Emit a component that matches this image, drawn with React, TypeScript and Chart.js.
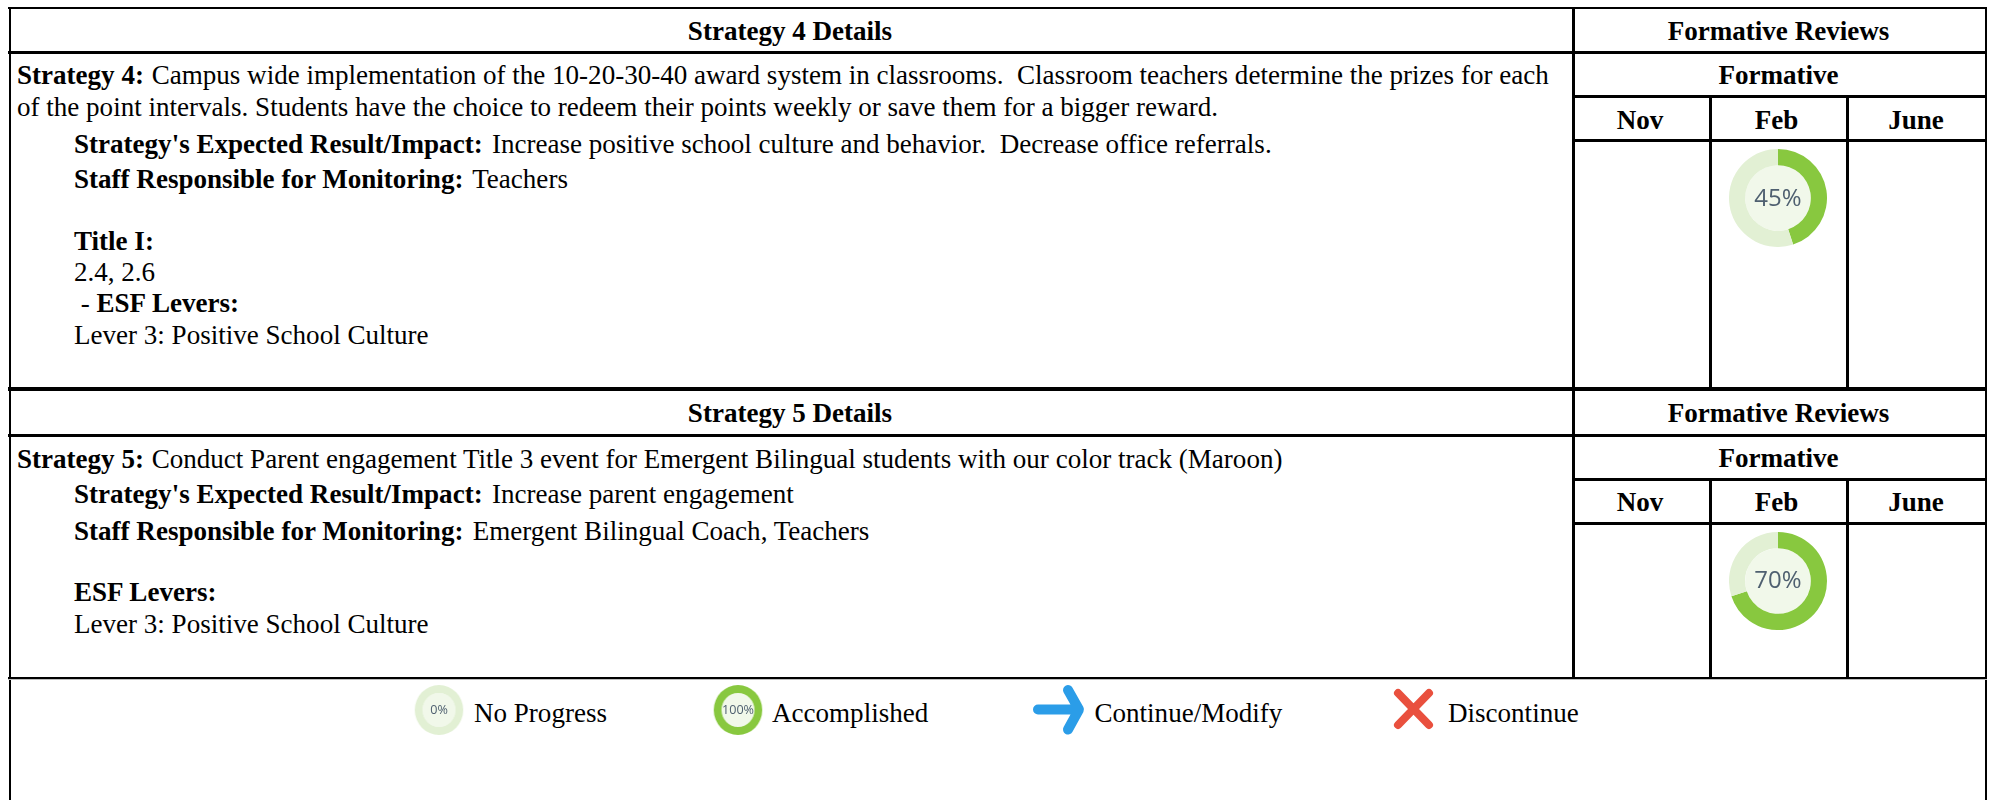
import React, { useEffect, useRef } from "react";
import { Chart, registerables } from "chart.js";

Chart.register(...registerables);

// ---- data ----
const reviewMonths = ["Nov", "Feb", "June"];
const strategy4Progress = [45, 55];
const strategy5Progress = [70, 30];
const noProgress = [0, 100];
const accomplished = [100, 0];
const strategy4Lines = [
  "Campus wide implementation of the 10-20-30-40 award system in classrooms.  Classroom teachers determine the prizes for each",
  "of the point intervals. Students have the choice to redeem their points weekly or save them for a bigger reward.",
  "Increase positive school culture and behavior.  Decrease office referrals.",
  "Teachers",
  "2.4, 2.6",
  "Lever 3: Positive School Culture",
];
const strategy5Lines = [
  "Conduct Parent engagement Title 3 event for Emergent Bilingual students with our color track (Maroon)",
  "Increase parent engagement",
  "Emergent Bilingual Coach, Teachers",
  "Lever 3: Positive School Culture",
];
const legendLabels = ["No Progress", "Accomplished", "Continue/Modify", "Discontinue"];

// ---- styles ----
const GREEN = "#88c83f";
const LIGHT = "#e2f0d4";
const CORE = "#f1f8ea";
const INK = "#000";
const SERIF = '"Liberation Serif", "Times New Roman", serif';
const FS = 27.05;

const coreFill = {
  id: "coreFill",
  beforeDatasetsDraw(chart: any) {
    const arc = chart.getDatasetMeta(0).data[0];
    if (!arc) return;
    const { ctx } = chart;
    ctx.save();
    ctx.fillStyle = CORE;
    ctx.beginPath();
    ctx.arc(arc.x, arc.y, arc.innerRadius, 0, Math.PI * 2);
    ctx.fill();
    ctx.restore();
  },
};

function Ring({ cx, cy, size, squeeze = 1, values, label, fontSize, cutout, lift = 0 }: any) {
  const ref = useRef<HTMLCanvasElement>(null);
  useEffect(() => {
    const chart = new Chart(ref.current!, {
      type: "doughnut",
      data: {
        labels: ["Done", "Remaining"],
        datasets: [{ data: values, backgroundColor: [GREEN, LIGHT], borderWidth: 0 }],
      },
      options: {
        responsive: false,
        animation: false,
        cutout,
        layout: { padding: 0 },
        plugins: { legend: { display: false }, tooltip: { enabled: false } },
      },
      plugins: [coreFill],
    });
    return () => chart.destroy();
  }, []);
  return (
    <div
      style={{
        position: "absolute",
        left: cx - size / 2,
        top: cy - size / 2,
        width: size,
        height: size,
        transform: `scaleX(${squeeze})`,
      }}
    >
      <canvas ref={ref} width={size} height={size} style={{ display: "block" }} />
      <div
        style={{
          position: "absolute",
          left: 0,
          right: 0,
          top: -lift,
          height: size,
          display: "flex",
          alignItems: "center",
          justifyContent: "center",
          font: `${fontSize}px "Open Sans", sans-serif`,
          color: "#4f6070",
        }}
      >
        {label}
      </div>
    </div>
  );
}

function Line({ x, y, w, h, color = INK }: any) {
  return <div style={{ position: "absolute", left: x, top: y, width: w, height: h, background: color }} />;
}

function T({ x, y, children }: any) {
  return (
    <div
      style={{
        position: "absolute",
        left: x,
        top: y - 20,
        height: 40,
        whiteSpace: "pre",
        font: `${FS}px/40px ${SERIF}`,
        color: INK,
      }}
    >
      {children}
    </div>
  );
}

function B({ gap = 0, children }: any) {
  return <b style={{ marginRight: gap }}>{children}</b>;
}

function C({ cx, y, children }: any) {
  return (
    <div
      style={{
        position: "absolute",
        left: cx - 400,
        width: 800,
        top: y - 20,
        height: 40,
        textAlign: "center",
        whiteSpace: "pre",
        font: `bold ${FS}px/40px ${SERIF}`,
        color: INK,
      }}
    >
      {children}
    </div>
  );
}

function ReviewColumns({ top, head, form, months, bottom, shift = 0 }: any) {
  return (
    <>
      <Line x={8} y={head} w={1979} h={3} />
      <Line x={1572} y={form} w={415} h={3} />
      <Line x={1572} y={months} w={415} h={3} />
      <Line x={1709} y={form} w={3} h={bottom - form} />
      <Line x={1846} y={form} w={3} h={bottom - form} />
      <C cx={1778.5} y={(top + head) / 2 + 1 + shift}>Formative Reviews</C>
      <C cx={1778.5} y={(head + form) / 2 + 2}>Formative</C>
      <C cx={1640} y={(form + months) / 2 + 3 + shift}>{reviewMonths[0]}</C>
      <C cx={1776.5} y={(form + months) / 2 + 3 + shift}>{reviewMonths[1]}</C>
      <C cx={1916} y={(form + months) / 2 + 3 + shift}>{reviewMonths[2]}</C>
    </>
  );
}

export default function App() {
  return (
    <div style={{ position: "absolute", left: 0, top: 0, width: 1995, height: 800, overflow: "hidden", background: "#fff" }}>
      {/* frame */}
      <Line x={8} y={7} w={1979} h={2} />
      <Line x={9} y={7} w={2} h={793} />
      <Line x={1985} y={7} w={2} h={793} />
      <Line x={1572} y={7} w={3} h={671} />
      <Line x={8} y={387} w={1979} h={4} />
      <Line x={8} y={677} w={1979} h={2} />
      <Line x={8} y={679} w={1979} h={1} color="#bdbdbd" />

      {/* strategy 4 */}
      <C cx={790} y={31}>Strategy 4 Details</C>
      <ReviewColumns top={8} head={51} form={95} months={139} bottom={387} />
      <T x={17} y={75}><B gap={1}>Strategy 4:</B> {strategy4Lines[0]}</T>
      <T x={17} y={107}>{strategy4Lines[1]}</T>
      <T x={74} y={144}><B gap={2.5}>Strategy's Expected Result/Impact:</B> {strategy4Lines[2]}</T>
      <T x={74} y={179}><B gap={2.5}>Staff Responsible for Monitoring:</B> {strategy4Lines[3]}</T>
      <T x={74} y={241}><b>Title I:</b></T>
      <T x={74} y={272}>{strategy4Lines[4]}</T>
      <T x={74} y={303}> - <b>ESF Levers:</b></T>
      <T x={74} y={334.5}>{strategy4Lines[5]}</T>
      <Ring cx={1778} cy={198} size={98} values={strategy4Progress} label="45%" fontSize={24} cutout="67%" lift={2} />

      {/* strategy 5 */}
      <C cx={790} y={413}>Strategy 5 Details</C>
      <ReviewColumns top={391} head={434} form={478} months={522} bottom={677} shift={-1} />
      <T x={17} y={459}><B gap={1}>Strategy 5:</B> {strategy5Lines[0]}</T>
      <T x={74} y={494}><B gap={2.5}>Strategy's Expected Result/Impact:</B> {strategy5Lines[1]}</T>
      <T x={74} y={531}><B gap={2.5}>Staff Responsible for Monitoring:</B> {strategy5Lines[2]}</T>
      <T x={74} y={592}><b>ESF Levers:</b></T>
      <T x={74} y={624}>{strategy5Lines[3]}</T>
      <Ring cx={1778} cy={581} size={98} values={strategy5Progress} label="70%" fontSize={24} cutout="67%" lift={3} />

      {/* legend */}
      <Ring cx={439} cy={710} size={50} squeeze={0.97} values={noProgress} label="0%" fontSize={13} cutout="68%" lift={1} />
      <T x={474} y={713}>{legendLabels[0]}</T>
      <Ring cx={737.5} cy={710} size={50} squeeze={0.97} values={accomplished} label="100%" fontSize={13} cutout="68%" lift={1} />
      <T x={772} y={713}>{legendLabels[1]}</T>
      <svg style={{ position: "absolute", left: 1025, top: 680, width: 65, height: 60 }} viewBox="1025 680 65 60">
        <path d="M1038 709.5H1078M1068 690L1079 709.5L1068 729.5" fill="none" stroke="#2b9de8" strokeWidth={10} strokeLinecap="round" strokeLinejoin="round" />
      </svg>
      <T x={1094.5} y={713}>{legendLabels[2]}</T>
      <svg style={{ position: "absolute", left: 1388, top: 682, width: 52, height: 54 }} viewBox="1388 682 52 54">
        <path d="M1398 693L1429 725M1429 693L1398 725" fill="none" stroke="#e9503e" strokeWidth={8} strokeLinecap="round" />
      </svg>
      <T x={1448} y={713}>{legendLabels[3]}</T>
    </div>
  );
}
